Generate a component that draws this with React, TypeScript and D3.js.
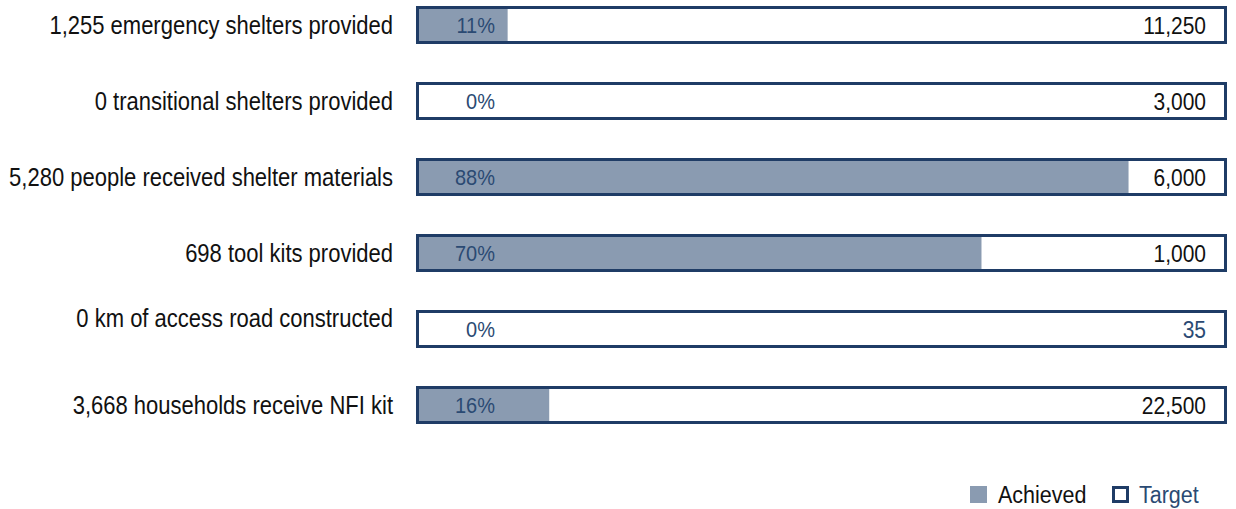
import React from "react";
import * as d3 from "d3";

// ---- data ----
const descriptions = [
  "emergency shelters provided",
  "transitional shelters provided",
  "people received shelter materials",
  "tool kits provided",
  "km of access road constructed",
  "households receive NFI kit",
];
const achieved = [1255, 0, 5280, 698, 0, 3668];
const targets = [11250, 3000, 6000, 1000, 35, 22500];
const legendLabels = ["Achieved", "Target"];

// ---- styles ----
const W = 1236;
const H = 509;
const NAVY = "#1f3c66";
const FILL = "#8a9bb1";
const PCT = "#2b4a73";
const FONT = "'Liberation Sans', Arial, sans-serif";
const STRETCH = 1.13;
const labelNudge = [0, 0, 0, 0, -11, 0];
const targetColor = ["#111", "#111", "#111", "#111", PCT, "#111"];

function T({ x, y, anchor = "start", size, fill, children }: any) {
  return (
    <text
      transform={`translate(${x},${y}) scale(1,${STRETCH})`}
      textAnchor={anchor}
      fontSize={size}
      fill={fill}
    >
      {children}
    </text>
  );
}

export default function App() {
  const idx = descriptions.map((_, i) => i);
  const y = d3.scaleBand<number>().domain(idx).range([6, 424]).paddingInner(0.5).paddingOuter(0);
  const x = d3.scaleLinear().domain([0, 1]).range([417.5, 1225.5]);
  const fmt = d3.format(",");
  const pct = d3.format(".0%");
  const bh = y.bandwidth();

  return (
    <svg width={W} height={H} style={{ position: "absolute", left: 0, top: 0 }} fontFamily={FONT}>
      <rect width={W} height={H} fill="#fff" />
      {idx.map((i) => {
        const y0 = y(i)!;
        const cy = y0 + bh / 2;
        const ratio = targets[i] ? achieved[i] / targets[i] : 0;
        return (
          <g key={i}>
            <T x={393} y={cy + 9 + labelNudge[i]} anchor="end" size={22} fill="#111">
              {fmt(achieved[i]) + " " + descriptions[i]}
            </T>
            <rect x={x(0)} y={y0 + 1.5} width={x(ratio) - x(0)} height={bh - 3} fill={FILL} />
            <rect x={x(0)} y={y0 + 1.5} width={x(1) - x(0)} height={bh - 3} fill="none" stroke={NAVY} strokeWidth={3} />
            <T x={495} y={cy + 7.5} anchor="end" size={20} fill={PCT}>
              {pct(ratio)}
            </T>
            <T x={1206} y={cy + 8.5} anchor="end" size={21} fill={targetColor[i]}>
              {fmt(targets[i])}
            </T>
          </g>
        );
      })}
      <g>
        <rect x={970} y={486} width={17} height={17} fill={FILL} />
        <T x={998} y={503} size={21.5} fill="#111">{legendLabels[0]}</T>
        <rect x={1113.5} y={487.5} width={14} height={14} fill="none" stroke={NAVY} strokeWidth={3} />
        <T x={1139} y={503} size={21.5} fill={PCT}>{legendLabels[1]}</T>
      </g>
    </svg>
  );
}
